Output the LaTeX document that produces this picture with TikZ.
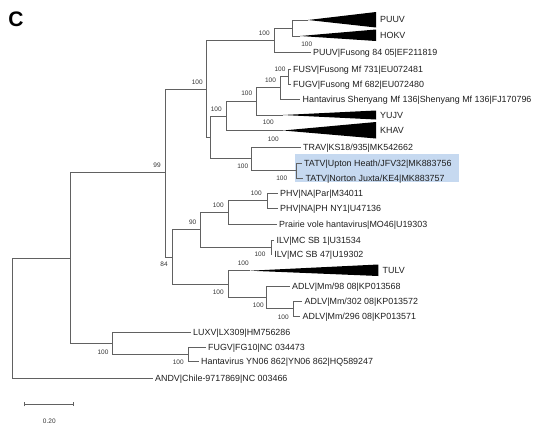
\documentclass[tikz,border=0pt]{standalone}
\usepackage{fontspec}
\setmainfont{Liberation Sans}
\usetikzlibrary{arrows.meta}
\definecolor{tatvblue}{RGB}{198,217,240}

\begin{document}
\begin{tikzpicture}[x=1pt, y=-1pt,
    branch/.style={draw=black!62, line width=0.75pt, to path={|- (\tikztotarget)}},
    taxon/.style={anchor=west, inner xsep=2.5pt, inner ysep=0pt, text height=6.4pt, text depth=0pt, font=\fontsize{8.9}{10}\selectfont, text=black!88},
    boot/.style={inner sep=0pt, text height=4.6pt, text depth=0pt, font=\fontsize{6.5}{7}\selectfont, text=black!80}]
    \useasboundingbox (0,0) rectangle (543,439);

    \fill [tatvblue] (295,154.3) rectangle (459.3,182.3);
    \node [inner sep=0pt, font=\fontsize{21}{24}\selectfont\bfseries] (panel) at (16,19.3) {C};

    % internal nodes
    \coordinate (r) at (12.7,318);
    \coordinate (a) at (70,258);
    \coordinate (b) at (165,172.6);
    \coordinate (d) at (206.7,89);
    \coordinate (e) at (274.3,40);
    \coordinate (f) at (292.7,28);
    \coordinate (h) at (210,137.3);
    \coordinate (i) at (226.3,116.2);
    \coordinate (j) at (256,101.4);
    \coordinate (k) at (280,87.8);
    \coordinate (g) at (288.3,76.5);
    \coordinate (m) at (251.7,158.7);
    \coordinate (n) at (296.7,170.5);
    \coordinate (c) at (172.3,256.9);
    \coordinate (q) at (200.7,229.8);
    \coordinate (o) at (228.3,212.3);
    \coordinate (p) at (267.3,200.5);
    \coordinate (w) at (271.7,247.2);
    \coordinate (s) at (228.3,284);
    \coordinate (t) at (266.7,297.4);
    \coordinate (u) at (293.3,308.8);
    \coordinate (l) at (112,343.4);
    \coordinate (v) at (188.3,354.5);

    % collapsed clades
    \coordinate (puuvtip) at (308,20);
    \coordinate (hokvtip) at (300,36);
    \coordinate (yujvtip) at (283,115);
    \coordinate (khavtip) at (283,130.5);
    \coordinate (tulvtip) at (250,270.7);
    \fill (puuvtip) -- (376,12) -- (376,27.5) -- cycle;
    \fill (hokvtip) -- (376,29.5) -- (376,41) -- cycle;
    \fill (yujvtip) -- (376,110.5) -- (376,119.5) -- cycle;
    \fill (khavtip) -- (376,122) -- (376,138.5) -- cycle;
    \fill (tulvtip) -- (378.3,264.5) -- (378.3,276) -- cycle;
    \node [taxon] (puuv) at (377.5,19.5) {PUUV};
    \node [taxon] (hokv) at (377.5,35.5) {HOKV};
    \node [taxon] (yujv) at (377.5,115) {YUJV};
    \node [taxon] (khav) at (377.5,130) {KHAV};
    \node [taxon] (tulv) at (380,270.5) {TULV};

    % taxa
    \node [taxon] (pfus) at (310.5,52) {PUUV|Fusong 84 05|EF211819};
    \node [taxon] (fusv) at (290.5,69) {FUSV|Fusong Mf 731|EU072481};
    \node [taxon] (fugv) at (290.5,84) {FUGV|Fusong Mf 682|EU072480};
    \node [taxon] (shen) at (300,99) {Hantavirus Shenyang Mf 136|Shenyang Mf 136|FJ170796};
    \node [taxon] (trav) at (300.5,147) {TRAV|KS18/935|MK542662};
    \node [taxon] (tatvu) at (301.5,163) {TATV|Upton Heath/JFV32|MK883756};
    \node [taxon] (tatvn) at (303,178) {TATV|Norton Juxta/KE4|MK883757};
    \node [taxon] (phv1) at (277.5,193) {PHV|NA|Par|M34011};
    \node [taxon] (phv2) at (277.5,208) {PHV|NA|PH NY1|U47136};
    \node [taxon] (pvh) at (276.5,224) {Prairie vole hantavirus|MO46|U19303};
    \node [taxon] (ilv1) at (274,240) {ILV|MC SB 1|U31534};
    \node [taxon] (ilv2) at (271.7,254.5) {ILV|MC SB 47|U19302};
    \node [taxon] (adlv1) at (289.5,286) {ADLV|Mm/98 08|KP013568};
    \node [taxon] (adlv2) at (302,301) {ADLV|Mm/302 08|KP013572};
    \node [taxon] (adlv3) at (300,316.7) {ADLV|Mm/296 08|KP013571};
    \node [taxon] (luxv) at (190.5,332.3) {LUXV|LX309|HM756286};
    \node [taxon] (fugv2) at (205.5,347.3) {FUGV|FG10|NC 034473};
    \node [taxon] (yn06) at (198.5,361.7) {Hantavirus YN06 862|YN06 862|HQ589247};
    \node [taxon] (andv) at (152.5,378) {ANDV|Chile-9717869|NC 003466};

    % branches
    \draw [branch] (r) to (a);
    \draw [branch] (r) to (andv.west);
    \draw [branch] (a) to (b);
    \draw [branch] (a) to (l);
    \draw [branch] (b) to (d);
    \draw [branch] (b) to (c);
    \draw [branch] (d) to (e);
    \draw [branch] (d) to (h);
    \draw [branch] (e) to (f);
    \draw [branch] (e) to (pfus.west);
    \draw [branch] (f) to (puuvtip);
    \draw [branch] (f) to (hokvtip);
    \draw [branch] (h) to (i);
    \draw [branch] (h) to (m);
    \draw [branch] (i) to (j);
    \draw [branch] (i) to (khavtip);
    \draw [branch] (j) to (k);
    \draw [branch] (j) to (yujvtip);
    \draw [branch] (k) to (g);
    \draw [branch] (k) to (shen.west);
    \draw [branch] (g) to (fusv.west);
    \draw [branch] (g) to (fugv.west);
    \draw [branch] (m) to (trav.west);
    \draw [branch] (m) to (n);
    \draw [branch] (n) to (tatvu.west);
    \draw [branch] (n) to (tatvn.west);
    \draw [branch] (c) to (q);
    \draw [branch] (c) to (s);
    \draw [branch] (q) to (o);
    \draw [branch] (q) to (w);
    \draw [branch] (o) to (p);
    \draw [branch] (o) to (pvh.west);
    \draw [branch] (p) to (phv1.west);
    \draw [branch] (p) to (phv2.west);
    \draw [branch] (w) to (ilv1.west);
    \draw [branch] (w) to (ilv2.west);
    \draw [branch] (s) to (tulvtip);
    \draw [branch] (s) to (t);
    \draw [branch] (t) to (adlv1.west);
    \draw [branch] (t) to (u);
    \draw [branch] (u) to (adlv2.west);
    \draw [branch] (u) to (adlv3.west);
    \draw [branch] (l) to (luxv.west);
    \draw [branch] (l) to (v);
    \draw [branch] (v) to (fugv2.west);
    \draw [branch] (v) to (yn06.west);

    % bootstrap values
    \node [boot] (E) at (264.3,33.3) {100};
    \node [boot] (F) at (306.7,44) {100};
    \node [boot] (G) at (280,69) {100};
    \node [boot] (D) at (197.3,81.7) {100};
    \node [boot] (K) at (270.5,80.5) {100};
    \node [boot] (J) at (246.7,93.5) {100};
    \node [boot] (I) at (216.3,109) {100};
    \node [boot] (Y) at (268.3,122.3) {100};
    \node [boot] (KH) at (273.3,139) {100};
    \node [boot] (M) at (242.7,166.3) {100};
    \node [boot] (N) at (281.7,178) {100};
    \node [boot] (B) at (157,165.5) {99};
    \node [boot] (P) at (256.3,193.3) {100};
    \node [boot] (O) at (218.3,205.3) {100};
    \node [boot] (Q) at (192.7,222.5) {90};
    \node [boot] (W) at (260,254) {100};
    \node [boot] (C) at (164,264) {84};
    \node [boot] (TU) at (243.3,263.3) {100};
    \node [boot] (S) at (218.3,291.7) {100};
    \node [boot] (T) at (258.3,305) {100};
    \node [boot] (U) at (283.3,316.7) {100};
    \node [boot] (L) at (103,351.7) {100};
    \node [boot] (V) at (178.3,362.3) {100};

    % scale bar
    \coordinate (sb1) at (24.3,404.3);
    \coordinate (sb2) at (74,404.3);
    \draw [draw=black!62, line width=0.75pt, {Bar[width=4pt]}-{Bar[width=4pt]}] (sb1) -- (sb2);
    \node [boot] (scale) at (49.3,420.7) {0.20};
\end{tikzpicture}
\end{document}
